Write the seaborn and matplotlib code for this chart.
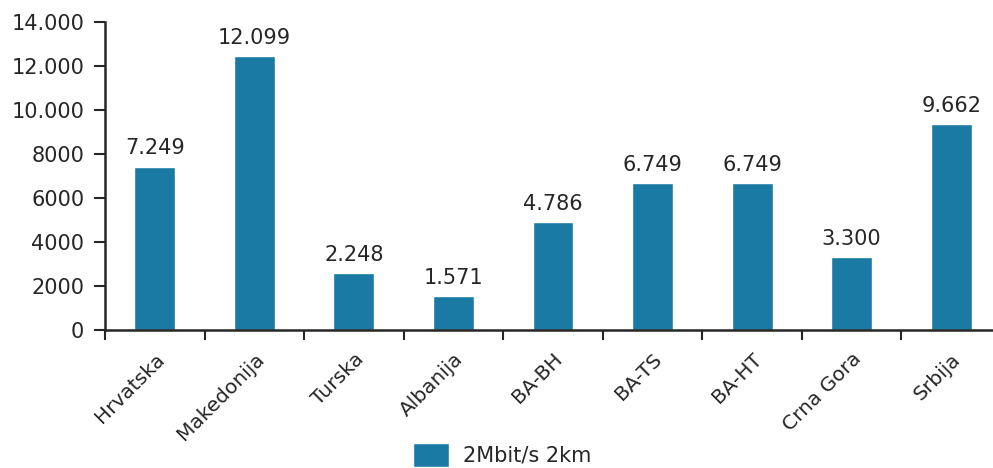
import matplotlib
matplotlib.use("Agg")
import matplotlib.pyplot as plt
import numpy as np
import pandas as pd
import seaborn as sns

# categories and values
kategorije = ["Hrvatska", "Makedonija", "Turska", "Albanija", "BA-BH",
              "BA-TS", "BA-HT", "Crna Gora", "Srbija"]
visine = [7420, 12450, 2590, 1545, 4910, 6680, 6680, 3320, 9360]
oznake = ["7.249", "12.099", "2.248", "1.571", "4.786",
          "6.749", "6.749", "3.300", "9.662"]
serija = "2Mbit/s 2km"
y_ticks = [0, 2000, 4000, 6000, 8000, 10000, 12000, 14000]
y_tick_labels = ["0", "2000", "4000", "6000", "8000", "10.000", "12.000", "14.000"]

BOJA = "#1a7aa4"
TEKST = "#262626"

sns.set_style("white")
plt.rcParams["font.family"] = ["DejaVu Sans"]

df = pd.DataFrame({"kategorija": kategorije, "vrijednost": visine, "serija": serija})

fig = plt.figure(figsize=(9.93, 4.68), dpi=100)
ax = fig.add_axes([105 / 993, 138 / 468, 896 / 993, 308 / 468])

sns.barplot(data=df, x="kategorija", y="vrijednost", hue="serija",
            palette=[BOJA], saturation=1, width=0.41, errorbar=None, ax=ax, legend=True)

ax.bar_label(ax.containers[0], labels=oznake, padding=6, fontsize=15, color=TEKST)

ax.set_xlim(-0.5, len(kategorije) - 0.5)
ax.set_ylim(0, 14000)
ax.set_yticks(y_ticks)
ax.set_yticklabels(y_tick_labels)
ax.set_xlabel("")
ax.set_ylabel("")

# Excel-style: tick marks between categories, labels centred
ax.set_xticks(np.arange(len(kategorije)))
ax.set_xticklabels(kategorije, rotation=45, ha="right", rotation_mode="anchor")
ax.set_xticks(np.arange(len(kategorije) + 1) - 0.5, minor=True)
ax.tick_params(axis="x", which="both", bottom=True)
ax.tick_params(axis="x", which="major", length=0, pad=14, labelsize=14.5, labelcolor=TEKST)
ax.tick_params(axis="x", which="minor", length=7, width=1.5, color=TEKST, direction="out")
ax.tick_params(axis="y", left=True, length=8, width=1.5, color=TEKST, labelsize=15,
               labelcolor=TEKST, pad=7, direction="out")

for side in ("top", "right"):
    ax.spines[side].set_visible(False)
for side in ("left", "bottom"):
    ax.spines[side].set_color(TEKST)
    ax.spines[side].set_linewidth(1.8)
ax.grid(False)

ax.legend(loc="center", bbox_to_anchor=(502 / 993, 13 / 468),
          bbox_transform=fig.transFigure, frameon=False, fontsize=15,
          handlelength=1.75, handleheight=1.45, handletextpad=0.65)
for t in ax.get_legend().get_texts():
    t.set_color(TEKST)

fig.savefig("out.png", dpi=100)
